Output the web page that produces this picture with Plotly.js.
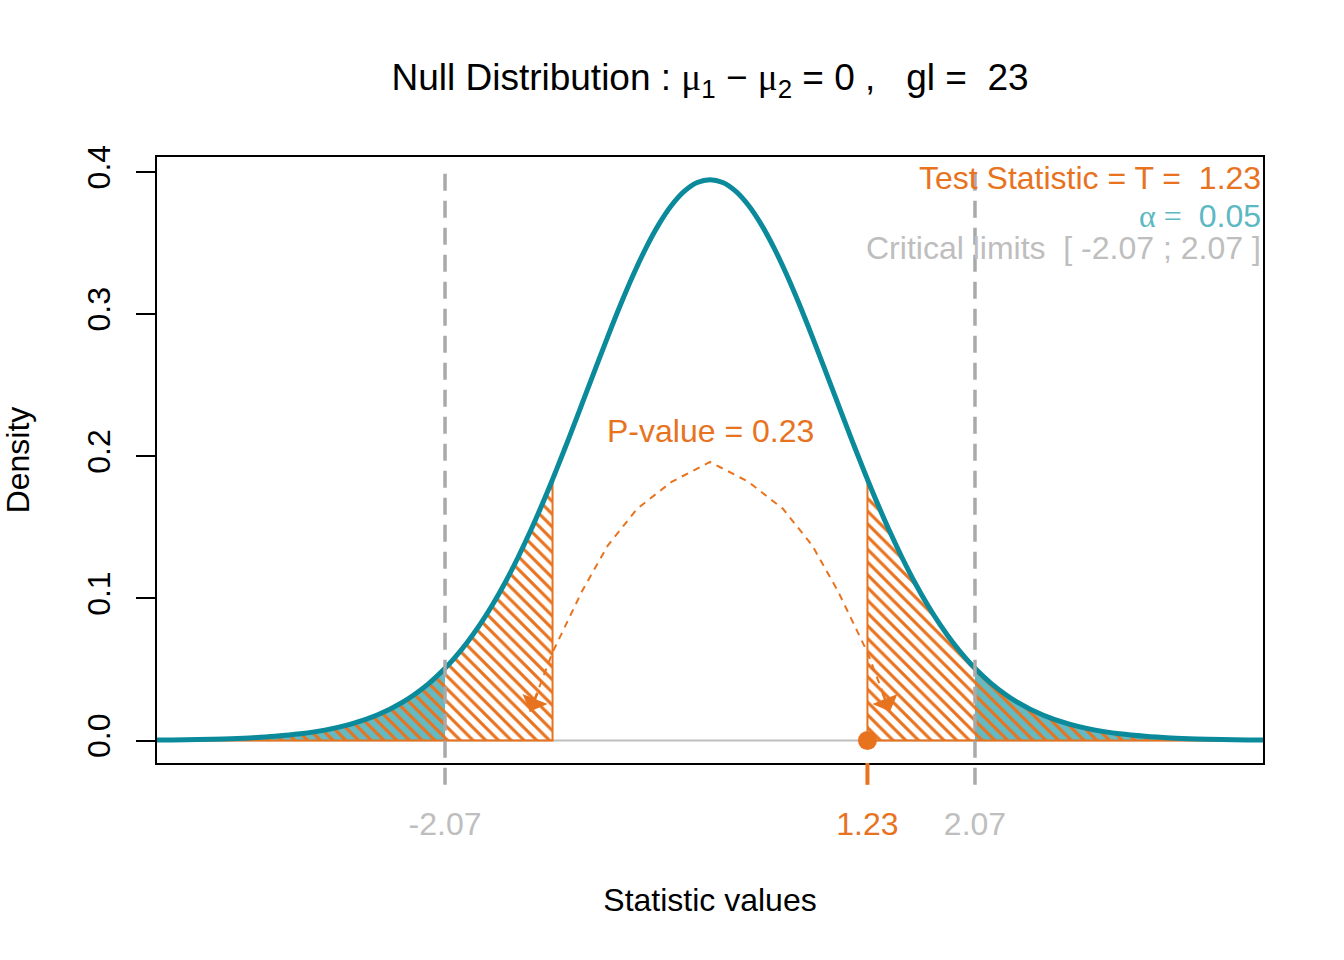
<!DOCTYPE html>
<html><head><meta charset="utf-8">
<script src="https://cdn.plot.ly/plotly-3.0.1.min.js"></script>
<style>body{margin:0;background:#fff}</style>
</head><body><div id="chart" style="width:1344px;height:960px"></div>
<script>
// t values (x) and density of the null t distribution (gl = 23)
const tValues = [-4.4,-4.2,-4.0,-3.8,-3.6,-3.4,-3.2,-3.0,-2.8,-2.6,-2.4,-2.2,-2.07,-2.0,-1.9,-1.8,-1.7,-1.6,-1.5,-1.4,-1.3,-1.23,-1.2,-1.1,-1.0,-0.9,-0.8,-0.7,-0.6,-0.5,-0.4,-0.3,-0.2,-0.1,0.0,
                 0.1,0.2,0.3,0.4,0.5,0.6,0.7,0.8,0.9,1.0,1.1,1.2,1.23,1.3,1.4,1.5,1.6,1.7,1.8,1.9,2.0,2.07,2.2,2.4,2.6,2.8,3.0,3.2,3.4,3.6,3.8,4.0,4.2,4.4];
const densityValues = [0.00026,0.00043,0.0007,0.00114,0.00185,0.00298,0.00475,0.0075,0.01168,0.01792,0.027,0.03989,0.0508,0.05761,0.0686,0.08115,0.09535,0.11121,0.12876,0.14787,0.16852,0.18371,0.19039,0.21327,0.23676,0.26047,0.28384,0.30639,0.32748,0.34657,0.36308,0.37652,0.38644,0.39253,0.39458,
                       0.39253,0.38644,0.37652,0.36308,0.34657,0.32748,0.30639,0.28384,0.26047,0.23676,0.21327,0.19039,0.18371,0.16852,0.14787,0.12876,0.11121,0.09535,0.08115,0.0686,0.05761,0.0508,0.03989,0.027,0.01792,0.01168,0.0075,0.00475,0.00298,0.00185,0.00114,0.0007,0.00043,0.00026];
const testStatistic = 1.23;
const alphaLevel = 0.05;
const pValue = 0.23;
const degreesOfFreedom = 23;
const criticalLimits = [-2.07, 2.07];
// dashed "P-value" arc (with arrow tails)
const arcX = [-1.406,-1.23,-1.0,-0.8,-0.57,-0.3,0.0,0.3,0.57,0.8,1.0,1.23,1.406];
const arcY = [0.0204,0.062,0.105,0.137,0.163,0.182,0.196,0.182,0.163,0.137,0.105,0.062,0.0204];
const xTickVals = [-2.07, 1.23, 2.07];
const xTickText = ['-2.07', '1.23', '2.07'];
const yTickVals = [0, 0.1, 0.2, 0.3, 0.4];
const yTickText = ['0.0', '0.1', '0.2', '0.3', '0.4'];

const ORANGE = '#E8731F', TEAL = '#0A8A9A', TEAL_FILL = '#63BAC2', TEAL_TXT = '#5CB8C2',
      GRAY = '#BEBEBE', DGRAY = '#A9A9A9';
const FONT = 'Liberation Sans, Arial, sans-serif';

function region(lo, hi) {
  const xs = [], ys = [];
  tValues.forEach((t, i) => { if (t >= lo - 1e-9 && t <= hi + 1e-9) { xs.push(t); ys.push(densityValues[i]); } });
  xs.push(hi, lo, xs[0]); ys.push(0, 0, ys[0]);
  return {xs, ys};
}
const xmin = tValues[0], xmax = tValues[tValues.length - 1];
const leftTail = region(xmin, criticalLimits[0]);
const rightTail = region(criticalLimits[1], xmax);
const leftP = region(xmin, -testStatistic);
const rightP = region(testStatistic, xmax);

const hatch = {shape: '\\', fgcolor: ORANGE, fgopacity: 1, bgcolor: 'rgba(0,0,0,0)', size: 9, solidity: 0.35, fillmode: 'overlay'};

const traces = [
  {x: leftTail.xs, y: leftTail.ys, type: 'scatter', mode: 'lines', fill: 'toself', fillcolor: TEAL_FILL, line: {width: 0}, hoverinfo: 'skip'},
  {x: rightTail.xs, y: rightTail.ys, type: 'scatter', mode: 'lines', fill: 'toself', fillcolor: TEAL_FILL, line: {width: 0}, hoverinfo: 'skip'},
  {x: leftP.xs, y: leftP.ys, type: 'scatter', mode: 'lines', fill: 'toself', fillcolor: 'rgba(0,0,0,0)', fillpattern: hatch, line: {color: ORANGE, width: 2}, hoverinfo: 'skip'},
  {x: rightP.xs, y: rightP.ys, type: 'scatter', mode: 'lines', fill: 'toself', fillcolor: 'rgba(0,0,0,0)', fillpattern: hatch, line: {color: ORANGE, width: 2}, hoverinfo: 'skip'},
  {x: arcX, y: arcY, type: 'scatter', mode: 'lines', line: {color: ORANGE, width: 2, dash: '7px,6px'}, hoverinfo: 'skip'},
  {x: tValues, y: densityValues, type: 'scatter', mode: 'lines', line: {color: TEAL, width: 5, shape: 'spline', smoothing: 1}, hoverinfo: 'skip'},
  {x: [testStatistic], y: [0], type: 'scatter', mode: 'markers', marker: {color: ORANGE, size: 19}, cliponaxis: false, hoverinfo: 'skip'}
];

const tickColors = [GRAY, ORANGE, GRAY];
const shapes = [
  {type: 'line', xref: 'paper', x0: 0, x1: 1, yref: 'y', y0: 0, y1: 0, line: {color: GRAY, width: 2}, layer: 'below'},
  {type: 'line', xref: 'x', x0: criticalLimits[0], x1: criticalLimits[0], yref: 'paper', y0: -0.036, y1: 0.978, line: {color: DGRAY, width: 3.5, dash: '17px,10px'}, layer: 'above'},
  {type: 'line', xref: 'x', x0: criticalLimits[1], x1: criticalLimits[1], yref: 'paper', y0: -0.036, y1: 0.978, line: {color: DGRAY, width: 3.5, dash: '17px,10px'}, layer: 'above'},
  {type: 'line', xref: 'x', x0: testStatistic, x1: testStatistic, yref: 'paper', y0: -0.036, y1: 0, line: {color: ORANGE, width: 4}, layer: 'above'}
];

const serif = s => '<span style="font-family:\'Liberation Serif\', serif">' + s + '</span>';
const annotations = [
  {xref: 'paper', x: 1, xanchor: 'right', yref: 'paper', y: 0.9653, yanchor: 'middle', showarrow: false,
   text: 'Test Statistic = T =\u00a0\u00a0' + testStatistic.toFixed(2), font: {family: FONT, size: 32, color: ORANGE}},
  {xref: 'paper', x: 1, xanchor: 'right', yref: 'paper', y: 0.9026, yanchor: 'middle', showarrow: false,
   text: serif('α = ') + '\u00a0' + alphaLevel.toFixed(2), font: {family: FONT, size: 32, color: TEAL_TXT}},
  {xref: 'paper', x: 1, xanchor: 'right', yref: 'paper', y: 0.8498, yanchor: 'middle', showarrow: false,
   text: 'Critical limits\u00a0\u00a0[ ' + criticalLimits[0].toFixed(2) + ' ; ' + criticalLimits[1].toFixed(2) + ' ]', font: {family: FONT, size: 32, color: GRAY}},
  {xref: 'x', x: 0, yref: 'y', y: 0.218, xanchor: 'center', yanchor: 'middle', showarrow: false,
   text: 'P-value = ' + pValue.toFixed(2), font: {family: FONT, size: 32, color: ORANGE}},
  {xref: 'x', x: arcX[0], yref: 'y', y: arcY[0], ax: 8, ay: -20, showarrow: true, arrowhead: 1, arrowsize: 1.8, arrowwidth: 2.5, arrowcolor: ORANGE, standoff: 0, text: ''},
  {xref: 'x', x: arcX[arcX.length - 1], yref: 'y', y: arcY[arcY.length - 1], ax: -8, ay: -20, showarrow: true, arrowhead: 1, arrowsize: 1.8, arrowwidth: 2.5, arrowcolor: ORANGE, standoff: 0, text: ''}
];

const layout = {
  width: 1344, height: 960,
  margin: {l: 157, r: 81, t: 157, b: 197},
  paper_bgcolor: '#fff', plot_bgcolor: '#fff',
  showlegend: false,
  font: {family: FONT, size: 32, color: '#000'},
  title: {
    text: 'Null Distribution : ' + serif('μ') + '<sub>1</sub> − ' + serif('μ') + '<sub>2</sub> = 0 ,\u00a0\u00a0\u00a0gl =\u00a0\u00a0' + degreesOfFreedom,
    font: {family: FONT, size: 37, color: '#000'},
    x: 0.5, xref: 'paper', y: 1 - 77 / 960, yref: 'container', yanchor: 'middle', xanchor: 'center'
  },
  xaxis: {
    range: [-4.32, 4.32], showgrid: false, zeroline: false, showline: true, mirror: true,
    linecolor: '#000', linewidth: 2, ticks: '', tickvals: xTickVals,
    ticktext: xTickText.map((t, i) => '<span style="color:' + tickColors[i] + '">' + t + '</span>'),
    tickfont: {family: FONT, size: 32, color: GRAY}, ticklabelstandoff: 32,
    title: {text: 'Statistic values', font: {family: FONT, size: 32, color: '#000'}, standoff: 47}
  },
  yaxis: {
    range: [-0.0158, 0.4105], showgrid: false, zeroline: false, showline: true, mirror: true,
    linecolor: '#000', linewidth: 2, ticks: 'outside', ticklen: 19, tickwidth: 2, tickcolor: '#000',
    tickvals: yTickVals, ticktext: yTickText, tickangle: -90,
    tickfont: {family: FONT, size: 32, color: '#000'}, ticklabelstandoff: 13,
    title: {text: 'Density', font: {family: FONT, size: 32, color: '#000'}, standoff: 47}
  },
  shapes, annotations
};
Plotly.newPlot('chart', traces, layout, {staticPlot: true, displayModeBar: false});
</script></body></html>
